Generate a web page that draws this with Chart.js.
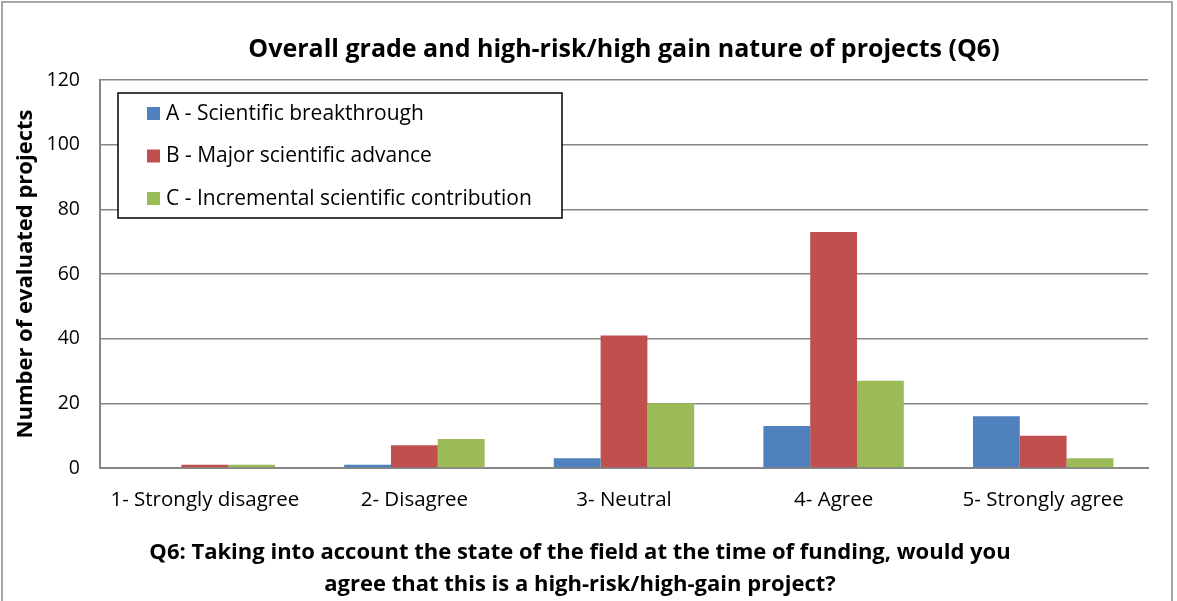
<!DOCTYPE html>
<html>
<head>
<meta charset="utf-8">
<script src="https://cdn.jsdelivr.net/npm/chart.js@4"></script>
<style>
  body { margin: 0; background: #fff; }
  #wrap { position: relative; width: 1177px; height: 601px; }
  #frame { position: absolute; left: 1px; top: 1px; width: 1172px; height: 610px; border: 2px solid #a6a6a6; box-sizing: border-box; pointer-events: none; }
</style>
</head>
<body>
<div id="wrap">
  <canvas id="chart" width="1177" height="601"></canvas>
  <div id="frame"></div>
</div>
<script>
// categorias y datos
const categorias = ['1- Strongly disagree', '2- Disagree', '3- Neutral', '4- Agree', '5- Strongly agree'];
const serieA = [0, 1, 3, 13, 16];
const serieB = [1, 7, 41, 73, 10];
const serieC = [1, 9, 20, 27, 3];
const nombres = ['A - Scientific breakthrough', 'B - Major scientific advance', 'C - Incremental scientific contribution'];
const colores = ['#4F81BD', '#C0504D', '#9BBB59'];
const ticksY = [0, 20, 40, 60, 80, 100, 120];

const fuente = "'Open Sans', 'Noto Sans', sans-serif";

// leyenda dentro del area del grafico (caja con borde negro)
const leyendaCaja = {
  id: 'leyendaCaja',
  afterDraw(chart) {
    const c = chart.ctx;
    const x = 118, y = 93, w = 444, h = 125;
    c.save();
    c.fillStyle = '#fff';
    c.fillRect(x, y, w, h);
    c.strokeStyle = '#000';
    c.lineWidth = 1.5;
    c.strokeRect(x, y, w, h);
    c.font = '21px ' + fuente;
    c.textBaseline = 'middle';
    chart.data.datasets.forEach((ds, i) => {
      const cy = y + 20 + i * 42.5;
      c.fillStyle = ds.backgroundColor;
      c.fillRect(x + 29, cy - 6, 13, 13);
      c.fillStyle = '#000';
      c.fillText(ds.label, x + 48, cy + 1);
    });
    c.restore();
  }
};

const ctx = document.getElementById('chart').getContext('2d');
new Chart(ctx, {
  type: 'bar',
  data: {
    labels: categorias,
    datasets: [serieA, serieB, serieC].map((d, i) => ({
      label: nombres[i],
      data: d,
      backgroundColor: colores[i],
      borderWidth: 0,
      barPercentage: 1,
      categoryPercentage: 0.67
    }))
  },
  options: {
    responsive: false,
    animation: false,
    layout: { padding: { left: 12, right: 29, top: 0, bottom: 0 } },
    plugins: {
      legend: { display: false },
      tooltip: { enabled: false },
      title: {
        display: true,
        fullSize: false,
        text: 'Overall grade and high-risk/high gain nature of projects (Q6)',
        color: '#000',
        font: { family: fuente, size: 25, weight: 'bold' },
        padding: { top: 35, bottom: 15 }
      },
      subtitle: {
        display: true,
        position: 'bottom',
        text: ['Q6: Taking into account the state of the field at the time of funding, would you', 'agree that this is a high-risk/high-gain project?'],
        color: '#000',
        font: { family: fuente, size: 22, weight: 'bold', lineHeight: '32px' },
        padding: { top: 18, bottom: 0 }
      }
    },
    scales: {
      x: {
        grid: { display: false, drawTicks: false },
        border: { color: '#868686', width: 2 },
        ticks: { color: '#000', font: { family: fuente, size: 20.5 }, padding: 20 },
        afterFit: s => { s.height = 51; }
      },
      y: {
        min: 0, max: 120,
        afterBuildTicks: s => { s.ticks = ticksY.map(v => ({ value: v })); },
        grid: { color: '#868686', lineWidth: 1.5, drawTicks: false },
        border: { color: '#868686', width: 2 },
        ticks: { color: '#000', font: { family: fuente, size: 19.5 }, padding: 20 },
        title: {
          display: true,
          text: 'Number of evaluated projects',
          color: '#000',
          font: { family: fuente, size: 22, weight: 'bold' },
          padding: { top: 1, bottom: 4 }
        },
        afterFit: s => { s.width = 88; }
      }
    }
  },
  plugins: [leyendaCaja]
});
</script>
</body>
</html>
